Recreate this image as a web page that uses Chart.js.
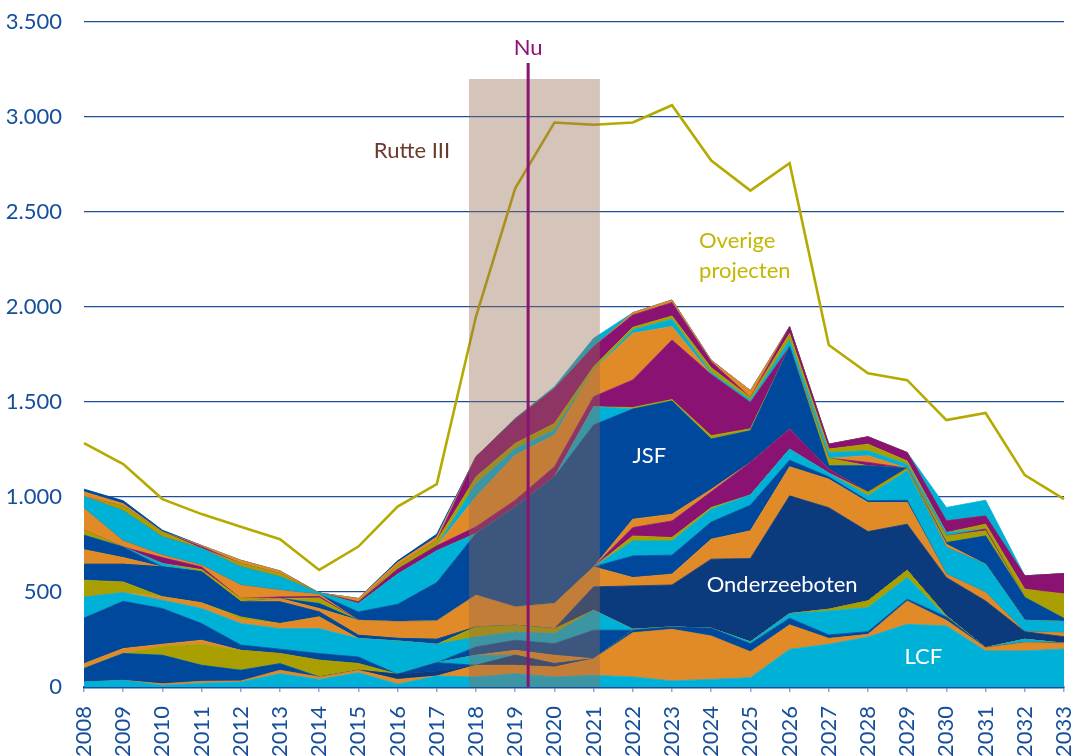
<!DOCTYPE html>
<html lang="nl">
<head>
<meta charset="utf-8">
<title>Investeringen Defensie 2008-2033</title>
<script src="https://cdn.jsdelivr.net/npm/chart.js@4.4.1/dist/chart.umd.min.js"></script>
<style>
  html, body { margin: 0; padding: 0; background: #fff; }
  #wrap { width: 1076px; height: 756px; }
</style>
</head>
<body>
<div id="wrap"><canvas id="chart" width="1076" height="756"></canvas></div>
<script>
const jaren = ['2008', '2009', '2010', '2011', '2012', '2013', '2014', '2015', '2016', '2017',
  '2018', '2019', '2020', '2021', '2022', '2023', '2024', '2025', '2026', '2027',
  '2028', '2029', '2030', '2031', '2032', '2033'];

// projectlagen, van onder naar boven (bedragen per jaar)
const laag01 = [26, 35, 9, 20, 26, 70, 40, 75, 15, 58, 53, 70, 53, 61, 53, 32, 40, 49, 198, 225, 263, 330, 321, 190, 190, 200]; // LCF
const laag02 = [0, 0, 8, 10, 6, 18, 13, 13, 25, 0, 61, 44, 52, 88, 233, 272, 229, 137, 129, 31, 14, 123, 30, 17, 44, 30];
const laag03 = [0, 0, 0, 0, 0, 0, 0, 0, 27, 26, 0, 53, 18, 0, 0, 0, 0, 0, 0, 0, 0, 0, 0, 0, 0, 0];
const laag04 = [71, 141, 150, 84, 56, 35, 0, 0, 0, 44, 0, 0, 0, 0, 13, 12, 40, 42, 35, 18, 14, 9, 18, 0, 0, 0];
const laag05 = [0, 0, 0, 0, 0, 0, 0, 0, 0, 0, 53, 0, 0, 0, 0, 0, 0, 9, 24, 126, 127, 114, 0, 0, 17, 0];
const laag06 = [0, 0, 47, 111, 105, 53, 88, 35, 0, 0, 0, 0, 0, 0, 0, 0, 0, 0, 0, 9, 35, 38, 5, 0, 0, 0];
const laag07 = [26, 26, 11, 21, 0, 0, 0, 0, 0, 0, 0, 26, 44, 0, 0, 0, 0, 0, 0, 0, 0, 0, 0, 0, 0, 0];
const laag08 = [240, 249, 188, 88, 28, 23, 35, 35, 0, 0, 44, 53, 61, 150, 0, 0, 0, 0, 0, 0, 0, 0, 0, 0, 0, 0];
const laag09 = [111, 46, 44, 79, 113, 108, 131, 97, 175, 97, 52, 44, 53, 105, 5, 0, 0, 0, 0, 0, 0, 0, 0, 0, 0, 0];
const laag10 = [0, 0, 18, 30, 21, 27, 62, 0, 0, 0, 0, 0, 0, 0, 0, 0, 0, 0, 0, 0, 0, 0, 0, 0, 0, 0];
const laag11 = [88, 56, 0, 0, 14, 0, 0, 0, 0, 0, 53, 35, 26, 0, 0, 0, 0, 0, 0, 0, 0, 0, 0, 0, 0, 0];
const laag12 = [84, 93, 157, 163, 79, 114, 26, 17, 14, 26, 0, 0, 0, 0, 0, 0, 0, 0, 0, 0, 0, 0, 0, 0, 0, 0];
const laag13 = [0, 0, 0, 0, 0, 0, 0, 0, 0, 0, 0, 0, 0, 123, 228, 221, 364, 439, 620, 535, 365, 243, 202, 246, 40, 35]; // Onderzeeboten
const laag14 = [77, 35, 0, 0, 0, 18, 18, 79, 88, 97, 167, 96, 132, 105, 44, 57, 105, 146, 153, 150, 153, 114, 18, 44, 0, 20];
const laag15 = [76, 56, 0, 0, 0, 0, 26, 0, 0, 0, 0, 0, 0, 0, 114, 100, 90, 135, 35, 12, 9, 12, 0, 0, 0, 0];
const laag16 = [0, 0, 18, 0, 0, 0, 0, 0, 0, 0, 0, 0, 0, 0, 79, 75, 68, 54, 58, 20, 27, 155, 140, 149, 60, 60];
const laag17 = [26, 0, 0, 12, 18, 0, 30, 0, 0, 0, 0, 0, 0, 0, 26, 18, 9, 0, 0, 0, 18, 13, 0, 0, 0, 0];
const laag18 = [0, 0, 31, 14, 0, 8, 8, 0, 0, 0, 0, 0, 0, 0, 44, 87, 82, 171, 105, 20, 0, 0, 0, 0, 0, 0];
const laag19 = [114, 32, 13, 9, 70, 35, 10, 0, 0, 0, 0, 0, 0, 0, 44, 35, 13, 0, 0, 0, 0, 0, 17, 0, 0, 0];
const laag20 = [0, 0, 0, 0, 0, 0, 0, 44, 91, 202, 325, 527, 667, 747, 580, 596, 265, 167, 434, 18, 139, 0, 9, 149, 120, 15]; // JSF
const laag21 = [62, 158, 96, 88, 96, 71, 8, 44, 159, 167, 0, 0, 0, 96, 0, 0, 0, 0, 0, 0, 0, 0, 0, 0, 0, 0];
const laag22 = [0, 0, 0, 0, 0, 0, 0, 0, 0, 0, 0, 0, 0, 0, 8, 8, 18, 10, 0, 40, 0, 0, 35, 27, 0, 0];
const laag23 = [0, 0, 0, 0, 0, 0, 0, 9, 26, 26, 35, 35, 53, 53, 145, 313, 322, 139, 0, 0, 18, 0, 0, 9, 0, 0];
const laag24 = [0, 0, 0, 0, 0, 0, 0, 0, 0, 0, 158, 237, 167, 140, 246, 71, 0, 0, 0, 0, 35, 0, 0, 0, 0, 0];
const laag25 = [0, 0, 0, 0, 0, 0, 0, 0, 0, 0, 70, 35, 26, 0, 18, 38, 10, 13, 35, 30, 26, 22, 18, 0, 0, 0];
const laag26 = [0, 24, 27, 0, 18, 17, 0, 0, 20, 27, 35, 27, 35, 18, 13, 18, 25, 13, 35, 18, 35, 17, 0, 26, 44, 130];
const laag27 = [0, 0, 0, 9, 0, 0, 0, 0, 0, 0, 106, 127, 183, 105, 65, 70, 32, 0, 35, 26, 39, 44, 61, 43, 70, 107];
const laag28 = [26, 14, 0, 7, 17, 14, 0, 18, 15, 20, 0, 0, 0, 0, 12, 14, 8, 36, 0, 0, 0, 0, 0, 0, 0, 0];
const laag29 = [14, 15, 8, 0, 0, 0, 0, 0, 9, 14, 0, 0, 0, 0, 0, 0, 0, 0, 0, 0, 0, 0, 0, 0, 0, 0];
const laag30 = [0, 0, 0, 0, 0, 0, 0, 0, 0, 0, 0, 5, 10, 44, 0, 0, 0, 0, 0, 0, 0, 0, 71, 83, 0, 0];

// lijn "Overige projecten"
const overige = [1284, 1173, 989, 910, 843, 778, 616, 739, 950, 1068, 1950, 2625, 2971, 2959, 2971, 3062, 2771, 2613, 2757, 1800, 1651, 1615, 1405, 1442, 1115, 989];

const rutteIII = [2017.82, 2021.16];
const nu = 2019.33;
const yTicks = [0, 500, 1000, 1500, 2000, 2500, 3000, 3500];

const CYAAN = '#00b1d7', ORANJE = '#e08a28', NAVY = '#0b3b7d', BLAUW = '#00489b', OLIJF = '#a99f00', PAARS = '#8a1273';

const lagen = [laag01, laag02, laag03, laag04, laag05, laag06, laag07, laag08, laag09, laag10,
  laag11, laag12, laag13, laag14, laag15, laag16, laag17, laag18, laag19, laag20,
  laag21, laag22, laag23, laag24, laag25, laag26, laag27, laag28, laag29, laag30];
const kleuren = [CYAAN, ORANJE, NAVY, BLAUW, CYAAN, OLIJF, ORANJE, BLAUW, CYAAN, ORANJE,
  OLIJF, BLAUW, NAVY, ORANJE, BLAUW, CYAAN, OLIJF, PAARS, ORANJE, BLAUW,
  CYAAN, OLIJF, PAARS, ORANJE, CYAAN, OLIJF, PAARS, ORANJE, BLAUW, CYAAN];

const TEKSTBLAUW = '#154f9c';
const FONT = 'Lato, "Open Sans", sans-serif';
Chart.defaults.font.family = FONT;

const datasets = lagen.map((data, i) => ({
  label: 'project ' + (i + 1),
  data: data,
  backgroundColor: kleuren[i],
  borderColor: kleuren[i],
  borderWidth: 0.8,
  fill: i === 0 ? 'origin' : '-1',
  pointRadius: 0,
  tension: 0,
  stack: 'projecten'
}));

datasets.push({
  label: 'Overige projecten',
  data: overige,
  borderColor: '#b5aa00',
  borderWidth: 2.6,
  fill: false,
  pointRadius: 0,
  tension: 0,
  stack: 'totaal',
  order: -1
});

const jaarIndex = j => j - Number(jaren[0]);

const overlay = {
  id: 'overlay',
  afterDatasetsDraw(chart) {
    const { ctx, scales: { x, y } } = chart;
    const px = j => x.getPixelForValue(jaarIndex(j));
    ctx.save();
    ctx.font = '22px ' + FONT;
    ctx.textBaseline = 'alphabetic';

    // labels in de vlakken
    ctx.fillStyle = '#ffffff';
    ctx.textAlign = 'center';
    ctx.fillText('JSF', px(2022.42), y.getPixelForValue(1177));
    ctx.fillText('Onderzeeboten', px(2025.81), y.getPixelForValue(500));
    ctx.fillText('LCF', px(2029.41), y.getPixelForValue(123));

    ctx.fillStyle = '#c3b700';
    ctx.textAlign = 'left';
    ctx.fillText('Overige', px(2023.69), y.getPixelForValue(2309));
    ctx.fillText('projecten', px(2023.69), y.getPixelForValue(2151));

    // kabinetsperiode Rutte III
    const x0 = px(rutteIII[0]), x1 = px(rutteIII[1]);
    const top = y.getPixelForValue(3200), bodem = y.getPixelForValue(0);
    ctx.fillStyle = 'rgba(150, 108, 82, 0.4)';
    ctx.fillRect(x0, top, x1 - x0, bodem - top);
    ctx.fillStyle = '#6b3a2e';
    ctx.textAlign = 'right';
    ctx.fillText('Rutte III', px(2017.34), y.getPixelForValue(2784));

    // nu-lijn
    const nx = px(nu);
    ctx.strokeStyle = '#8b1373';
    ctx.lineWidth = 3;
    ctx.beginPath();
    ctx.moveTo(nx, y.getPixelForValue(3284));
    ctx.lineTo(nx, bodem);
    ctx.stroke();
    ctx.fillStyle = '#8b1373';
    ctx.textAlign = 'center';
    ctx.fillText('Nu', nx, y.getPixelForValue(3327));
    ctx.restore();
  }
};

new Chart(document.getElementById('chart'), {
  type: 'line',
  data: { labels: jaren, datasets: datasets },
  options: {
    responsive: false,
    animation: false,
    devicePixelRatio: 1,
    layout: { padding: { top: 22, right: 12, left: 0, bottom: 0 } },
    plugins: {
      legend: { display: false },
      tooltip: { enabled: false },
      filler: { propagate: false }
    },
    scales: {
      x: {
        grid: { drawOnChartArea: false, drawTicks: true, tickLength: 5, color: '#88a7d6', lineWidth: 1.5 },
        border: { display: true, color: '#1c4d9c', width: 2.5 },
        ticks: {
          autoSkip: false, minRotation: 90, maxRotation: 90, padding: 14,
          color: TEKSTBLAUW, font: { size: 22 }
        },
        afterFit: s => { s.height = 69; s.paddingLeft = 0; s.paddingRight = 0; }
      },
      y: {
        stacked: true,
        min: 0,
        max: 3500,
        afterBuildTicks: s => { s.ticks = yTicks.map(v => ({ value: v })); },
        grid: {
          drawTicks: false,
          color: '#1d4f9e',
          lineWidth: c => (c.tick && c.tick.value === 0 ? 0 : 1.3)
        },
        border: { display: false },
        ticks: {
          padding: 22,
          color: TEKSTBLAUW,
          font: { size: 22 },
          callback: v => String(v).replace(/\B(?=(\d{3})+(?!\d))/g, '.')
        },
        afterFit: s => { s.width = 84; s.paddingTop = 0; s.paddingBottom = 0; }
      }
    }
  },
  plugins: [overlay]
});
</script>
</body>
</html>
